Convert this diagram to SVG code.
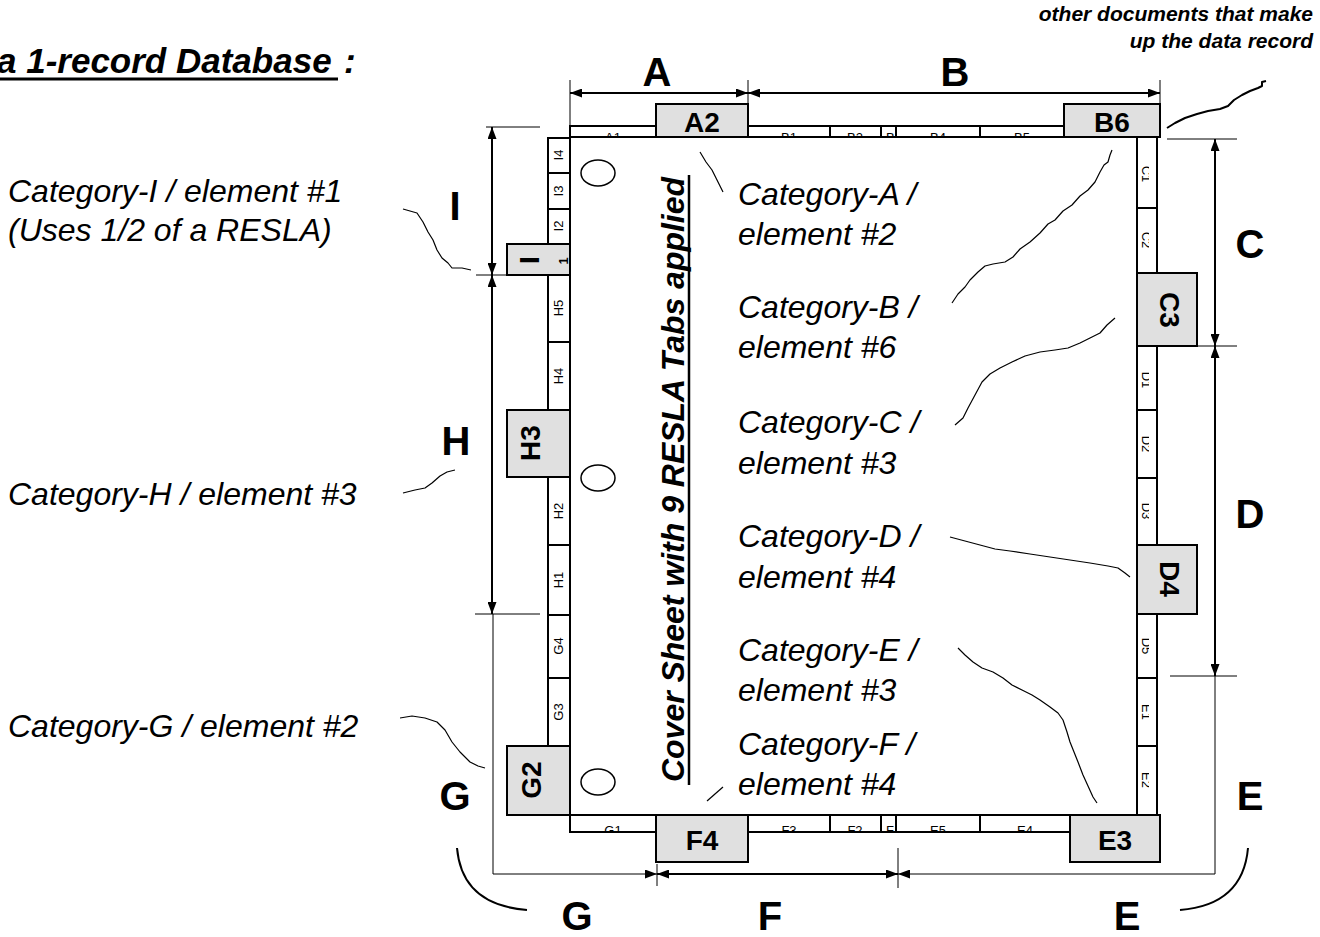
<svg xmlns="http://www.w3.org/2000/svg" width="1320" height="937" viewBox="0 0 1320 937">
<style>
  text { font-family: "Liberation Sans", Arial, sans-serif; fill: #000; }
  .big { font-size: 40px; font-weight: bold; text-anchor: middle; }
  .cat { font-size: 32px; font-style: italic; }
  .tabl { font-size: 28px; font-weight: bold; text-anchor: middle; }
  .sm { font-size: 13px; text-anchor: middle; }
  .strip { fill: #fff; stroke: #000; stroke-width: 2; }
  .tab { fill: #e0e0e0; stroke: #000; stroke-width: 2; }
  .dim { fill: none; stroke: #000; stroke-width: 2; }
  .thin { fill: none; stroke: #000; stroke-width: 1; }
  .lead { fill: none; stroke: #000; stroke-width: 1.2; stroke-linejoin: round; }
</style>
<defs>
  <marker id="ah" viewBox="0 0 12 9" refX="12" refY="4.5" markerWidth="12" markerHeight="9" markerUnits="userSpaceOnUse" orient="auto-start-reverse">
    <path d="M0,0 L12,4.5 L0,9 z" fill="#000"/>
  </marker>
  <clipPath id="cTop"><rect x="570" y="126" width="494" height="11"/></clipPath>
  <clipPath id="cTopN"><rect x="882" y="126" width="13" height="11"/></clipPath>
  <clipPath id="cBot"><rect x="570" y="815" width="500" height="17"/></clipPath>
  <clipPath id="cBotN"><rect x="882" y="815" width="13" height="17"/></clipPath>
  <clipPath id="cRight"><rect x="1137" y="137" width="12" height="678"/></clipPath>
  <clipPath id="cIbox"><rect x="507" y="244" width="63" height="31"/></clipPath>
</defs>

<!-- title texts -->
<g id="title">
  <text x="-3" y="73" style="font-size:35px;font-weight:bold;font-style:italic">a 1-record Database</text>
  <line x1="0" y1="79" x2="338" y2="79" stroke="#000" stroke-width="3"/>
  <text x="344" y="73" style="font-size:35px;font-weight:bold;font-style:italic">:</text>
</g>
<g id="note-other-docs">
  <text x="1313" y="21" style="font-size:21px;font-weight:bold;font-style:italic;text-anchor:end">other documents that make</text>
  <text x="1313" y="48" style="font-size:21px;font-weight:bold;font-style:italic;text-anchor:end">up the data record</text>
</g>

<!-- cover sheet -->
<g id="sheet">
  <rect x="570" y="137" width="567" height="678" fill="#fff" stroke="#000" stroke-width="2"/>
  <ellipse cx="598" cy="173" rx="17" ry="13" fill="#fff" stroke="#000" stroke-width="1.5"/>
  <ellipse cx="598" cy="478" rx="17" ry="13" fill="#fff" stroke="#000" stroke-width="1.5"/>
  <ellipse cx="598" cy="782" rx="17" ry="13" fill="#fff" stroke="#000" stroke-width="1.5"/>
  <text transform="translate(684,782) rotate(-90)" textLength="605" lengthAdjust="spacingAndGlyphs" style="font-size:32px;font-weight:bold;font-style:italic">Cover Sheet with 9 RESLA Tabs applied</text>
  <line x1="689" y1="175" x2="689" y2="785" stroke="#000" stroke-width="2.5"/>
</g>

<!-- top strip -->
<g id="strip-top">
  <rect class="strip" x="570" y="126" width="86" height="11"/>
  <rect class="strip" x="748" y="126" width="82" height="11"/>
  <rect class="strip" x="830" y="126" width="51" height="11"/>
  <rect class="strip" x="881" y="126" width="15" height="11"/>
  <rect class="strip" x="896" y="126" width="84" height="11"/>
  <rect class="strip" x="980" y="126" width="84" height="11"/>
  <g clip-path="url(#cTop)">
    <text class="sm" x="613" y="142">A1</text>
    <text class="sm" x="789" y="142">B1</text>
    <text class="sm" x="855" y="142">B2</text>
    <text class="sm" x="938" y="142">B4</text>
    <text class="sm" x="1022" y="142">B5</text>
  </g>
  <g clip-path="url(#cTopN)"><text x="886" y="142" style="font-size:13px">B3</text></g>
</g>

<!-- bottom strip -->
<g id="strip-bottom">
  <rect class="strip" x="570" y="815" width="86" height="17"/>
  <rect class="strip" x="748" y="815" width="82" height="17"/>
  <rect class="strip" x="830" y="815" width="51" height="17"/>
  <rect class="strip" x="881" y="815" width="15" height="17"/>
  <rect class="strip" x="896" y="815" width="84" height="17"/>
  <rect class="strip" x="980" y="815" width="90" height="17"/>
  <g clip-path="url(#cBot)">
    <text class="sm" x="613" y="835">G1</text>
    <text class="sm" x="789" y="835">F3</text>
    <text class="sm" x="855" y="835">F2</text>
    <text class="sm" x="938" y="835">E5</text>
    <text class="sm" x="1025" y="835">E4</text>
  </g>
  <g clip-path="url(#cBotN)"><text x="886" y="835" style="font-size:13px">F1</text></g>
</g>

<!-- left strip -->
<g id="strip-left">
  <rect class="strip" x="548" y="138" width="22" height="35"/>
  <rect class="strip" x="548" y="173" width="22" height="36"/>
  <rect class="strip" x="548" y="209" width="22" height="35"/>
  <rect class="strip" x="548" y="275" width="22" height="67"/>
  <rect class="strip" x="548" y="342" width="22" height="68"/>
  <rect class="strip" x="548" y="477" width="22" height="68"/>
  <rect class="strip" x="548" y="545" width="22" height="70"/>
  <rect class="strip" x="548" y="615" width="22" height="63"/>
  <rect class="strip" x="548" y="678" width="22" height="68"/>
  <text class="sm" transform="translate(563,155) rotate(-90)">I4</text>
  <text class="sm" transform="translate(563,191) rotate(-90)">I3</text>
  <text class="sm" transform="translate(563,226) rotate(-90)">I2</text>
  <text class="sm" transform="translate(563,308) rotate(-90)">H5</text>
  <text class="sm" transform="translate(563,376) rotate(-90)">H4</text>
  <text class="sm" transform="translate(563,511) rotate(-90)">H2</text>
  <text class="sm" transform="translate(563,580) rotate(-90)">H1</text>
  <text class="sm" transform="translate(563,646) rotate(-90)">G4</text>
  <text class="sm" transform="translate(563,712) rotate(-90)">G3</text>
</g>

<!-- right strip -->
<g id="strip-right">
  <rect class="strip" x="1137" y="137" width="20" height="71"/>
  <rect class="strip" x="1137" y="208" width="20" height="65"/>
  <rect class="strip" x="1137" y="346" width="20" height="64"/>
  <rect class="strip" x="1137" y="410" width="20" height="68"/>
  <rect class="strip" x="1137" y="478" width="20" height="67"/>
  <rect class="strip" x="1137" y="614" width="20" height="64"/>
  <rect class="strip" x="1137" y="678" width="20" height="68"/>
  <rect class="strip" x="1137" y="746" width="20" height="69"/>
  <g clip-path="url(#cRight)">
    <text class="sm" transform="translate(1142,174) rotate(90)">C1</text>
    <text class="sm" transform="translate(1142,240) rotate(90)">C2</text>
    <text class="sm" transform="translate(1142,380) rotate(90)">D1</text>
    <text class="sm" transform="translate(1142,444) rotate(90)">D2</text>
    <text class="sm" transform="translate(1142,511) rotate(90)">D3</text>
    <text class="sm" transform="translate(1142,646) rotate(90)">D5</text>
    <text class="sm" transform="translate(1142,712) rotate(90)">E1</text>
    <text class="sm" transform="translate(1142,780) rotate(90)">E2</text>
  </g>
</g>

<!-- RESLA tabs -->
<g id="tab-A2"><rect class="tab" x="656" y="104" width="92" height="33"/><text class="tabl" x="702" y="132">A2</text></g>
<g id="tab-B6"><rect class="tab" x="1064" y="104" width="96" height="33"/><text class="tabl" x="1112" y="132">B6</text></g>
<g id="tab-C3"><rect class="tab" x="1137" y="273" width="60" height="73"/><text class="tabl" transform="translate(1160,310) rotate(90)">C3</text></g>
<g id="tab-D4"><rect class="tab" x="1137" y="545" width="60" height="69"/><text class="tabl" transform="translate(1160,579) rotate(90)">D4</text></g>
<g id="tab-E3"><rect class="tab" x="1070" y="815" width="90" height="47"/><text class="tabl" x="1115" y="850">E3</text></g>
<g id="tab-F4"><rect class="tab" x="656" y="815" width="92" height="47"/><text class="tabl" x="702" y="850">F4</text></g>
<g id="tab-G2"><rect class="tab" x="507" y="746" width="63" height="69"/><text class="tabl" transform="translate(541,780) rotate(-90)">G2</text></g>
<g id="tab-H3"><rect class="tab" x="507" y="410" width="63" height="67"/><text class="tabl" transform="translate(540,443) rotate(-90)">H3</text></g>
<g id="tab-I">
  <rect class="tab" x="507" y="244" width="63" height="31"/>
  <text class="tabl" transform="translate(539,260) rotate(-90)">I</text>
  <g clip-path="url(#cIbox)"><text transform="translate(568,261) rotate(-90)" style="font-size:13px;font-weight:bold;text-anchor:middle">1</text></g>
</g>

<!-- category labels -->
<g id="labels-left">
  <text class="cat" x="8" y="202">Category-I / element #1</text>
  <text class="cat" x="8" y="241">(Uses 1/2 of a RESLA)</text>
  <text class="cat" x="8" y="505">Category-H / element #3</text>
  <text class="cat" x="8" y="737">Category-G / element #2</text>
</g>
<g id="labels-center">
  <text class="cat" x="738" y="205">Category-A /</text>
  <text class="cat" x="738" y="245">element #2</text>
  <text class="cat" x="738" y="318">Category-B /</text>
  <text class="cat" x="738" y="358">element #6</text>
  <text class="cat" x="738" y="433">Category-C /</text>
  <text class="cat" x="738" y="474">element #3</text>
  <text class="cat" x="738" y="547">Category-D /</text>
  <text class="cat" x="738" y="588">element #4</text>
  <text class="cat" x="738" y="661">Category-E /</text>
  <text class="cat" x="738" y="701">element #3</text>
  <text class="cat" x="738" y="755">Category-F /</text>
  <text class="cat" x="738" y="795">element #4</text>
</g>

<!-- dimension letters -->
<g id="dim-letters">
  <text class="big" x="657" y="86">A</text>
  <text class="big" x="955" y="86">B</text>
  <text class="big" x="455" y="220">I</text>
  <text class="big" x="1250" y="258">C</text>
  <text class="big" x="456" y="455">H</text>
  <text class="big" x="1250" y="528">D</text>
  <text class="big" x="455" y="810">G</text>
  <text class="big" x="1250" y="810">E</text>
  <text class="big" x="577" y="930">G</text>
  <text class="big" x="770" y="930">F</text>
  <text class="big" x="1127" y="930">E</text>
</g>

<!-- connectors: dimension lines, ticks, leaders -->
<g id="connectors">
  <path class="dim" d="M570,93 H748" marker-start="url(#ah)" marker-end="url(#ah)"/>
  <path class="dim" d="M748,93 H1160" marker-start="url(#ah)" marker-end="url(#ah)"/>
  <path class="dim" d="M492,127 V275" marker-start="url(#ah)" marker-end="url(#ah)"/>
  <path class="dim" d="M492,275 V614" marker-start="url(#ah)" marker-end="url(#ah)"/>
  <path class="dim" d="M1215,139 V346" marker-start="url(#ah)" marker-end="url(#ah)"/>
  <path class="dim" d="M1215,346 V676" marker-start="url(#ah)" marker-end="url(#ah)"/>
  <path class="dim" d="M657,874 H898" marker-start="url(#ah)" marker-end="url(#ah)"/>
  <path class="thin" d="M493,614 V874 H657" marker-end="url(#ah)"/>
  <path class="thin" d="M1215,676 V874 H898" marker-end="url(#ah)"/>

  <path class="thin" d="M570,80 V126 M748,80 V104 M1160,80 V104"/>
  <path class="thin" d="M486,127 H540 M476,275 H507 M475,614 H540"/>
  <path class="thin" d="M657,864 V886 M898,848 V888"/>
  <path class="thin" d="M1167,139 H1237 M1197,346 H1237 M1170,676 H1237"/>

  <path class="dim" d="M457,848 Q462,905 527,910"/>
  <path class="dim" d="M1248,848 Q1243,905 1180,910"/>

  <path class="lead" d="M403,209 L410,211 L417,213 L423,222 L428,232 L433,240 L437,250 L442,258 L448,263 L452,268 L462,268 L471,270"/>
  <path class="lead" d="M403,493 L415,490 L425,488 L432,483 L440,476 L447,472 L455,470"/>
  <path class="lead" d="M400,718 L412,716 L425,718 L437,722 L445,730 L452,742 L460,752 L470,762 L478,766 L485,768"/>
  <path class="lead" d="M700,152 L706,162 L712,170 L716,178 L720,186 L723,192"/>
  <path class="lead" d="M952,303 L958,294 L965,287 L970,280 L978,272 L985,266 L993,264 L1005,262 L1013,257 L1020,249 L1030,242 L1040,233 L1048,224 L1055,220 L1063,211 L1072,205 L1080,196 L1088,190 L1095,182 L1100,172 L1104,165 L1108,162 L1110,155 L1112,150"/>
  <path class="lead" d="M955,425 L963,418 L968,408 L975,395 L982,382 L990,374 L1000,368 L1012,362 L1025,356 L1040,352 L1055,350 L1068,348 L1080,343 L1090,338 L1100,333 L1107,325 L1115,318"/>
  <path class="lead" d="M950,537 L965,541 L980,545 L995,549 L1010,551 L1030,554 L1050,557 L1070,560 L1090,563 L1108,566 L1118,568 L1125,573 L1130,577"/>
  <path class="lead" d="M958,648 L965,655 L973,662 L982,668 L993,672 L1003,678 L1012,685 L1022,690 L1032,695 L1040,700 L1050,707 L1058,713 L1063,720 L1067,732 L1070,742 L1074,752 L1078,762 L1083,775 L1088,786 L1093,797 L1097,803"/>
  <path class="lead" d="M707,801 L723,787"/>
  <path class="lead" style="stroke-width:2" d="M1167,128 L1175,123 L1185,118 L1197,114 L1208,111 L1220,109 L1228,106 L1234,100 L1242,95 L1250,91 L1258,88 L1262,86 L1262,82 L1266,81"/>
</g>
</svg>
